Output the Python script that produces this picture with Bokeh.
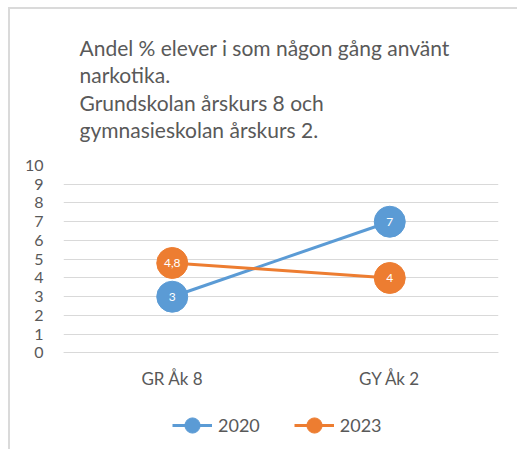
from bokeh.plotting import figure
from bokeh.models import FactorRange, Range1d, Legend, LegendItem
from bokeh.core.properties import value
from bokeh.embed import file_html
from bokeh.resources import INLINE

categories = ["GR Åk 8", "GY Åk 2"]
years = ["2020", "2023"]
values_2020 = [3, 7]
values_2023 = [4.8, 4]
labels_2020 = ["3", "7"]
labels_2023 = ["4,8", "4"]
colors = ["#5B9BD5", "#ED7D31"]
y_ticks = list(range(0, 11))
title_lines = [
    "Andel % elever  i som någon gång använt",
    "narkotika.",
    "Grundskolan årskurs 8 och",
    "gymnasieskolan årskurs 2.",
]

FONT = "Lato"
TXT = "#595959"
GRID = "#d9d9d9"

p = figure(
    x_range=FactorRange(*categories, range_padding=0),
    y_range=Range1d(-5.15, 10),
    frame_width=435, frame_height=284,
    output_backend="svg", toolbar_location=None,
    min_border_left=53, min_border_right=19, min_border_top=156, min_border_bottom=0,
)
p.styles = {"border-left": "2px solid #dadada", "border-top": "2px solid #dadada",
            "margin-left": "8px", "margin-top": "7px"}

p.title.text = "\n".join(title_lines)
p.title.text_font = FONT
p.title.text_font_size = "21px"
p.title.text_font_style = "normal"
p.title.text_color = TXT
p.title.text_line_height = 1.1
p.title.align = "left"
p.title.vertical_align = "top"
p.title.offset = 16
p.title.standoff = 42

p.outline_line_color = None
p.xgrid.grid_line_color = None
p.ygrid.grid_line_color = GRID
p.ygrid.grid_line_width = 1

p.yaxis.ticker = y_ticks
p.yaxis.axis_line_color = None
p.yaxis.major_tick_line_color = None
p.yaxis.minor_tick_line_color = None
p.yaxis.major_label_standoff = 14
p.yaxis.major_label_text_font = FONT
p.yaxis.major_label_text_font_size = "16px"
p.yaxis.major_label_text_color = TXT

p.xaxis.fixed_location = 0
p.xaxis.axis_line_color = GRID
p.xaxis.major_tick_line_color = None
p.xaxis.minor_tick_line_color = None
p.xaxis.major_label_standoff = 9
p.xaxis.major_label_text_font = FONT
p.xaxis.major_label_text_font_size = "17px"
p.xaxis.major_label_text_color = TXT

items = []
for year, vals, labs, col in [(years[0], values_2020, labels_2020, colors[0]),
                              (years[1], values_2023, labels_2023, colors[1])]:
    ln = p.line(categories, vals, line_color=col, line_width=3)
    sc = p.scatter(categories, vals, size=31, fill_color=col, line_color=col)
    p.text(categories, vals, text=labs, text_color="white", text_align="center",
           text_baseline="middle", text_font=value(FONT), text_font_size="12px")
    items.append(LegendItem(label=year, renderers=[ln, sc]))

legend = Legend(items=items, orientation="horizontal", location=(109, 5),
                glyph_width=40, glyph_height=38, label_standoff=6, spacing=34,
                padding=0, margin=0, border_line_color=None, background_fill_alpha=0,
                label_text_font=FONT, label_text_font_size="18px", label_text_color=TXT)
p.add_layout(legend, "center")

open("out.html", "w").write(file_html(p, INLINE))
